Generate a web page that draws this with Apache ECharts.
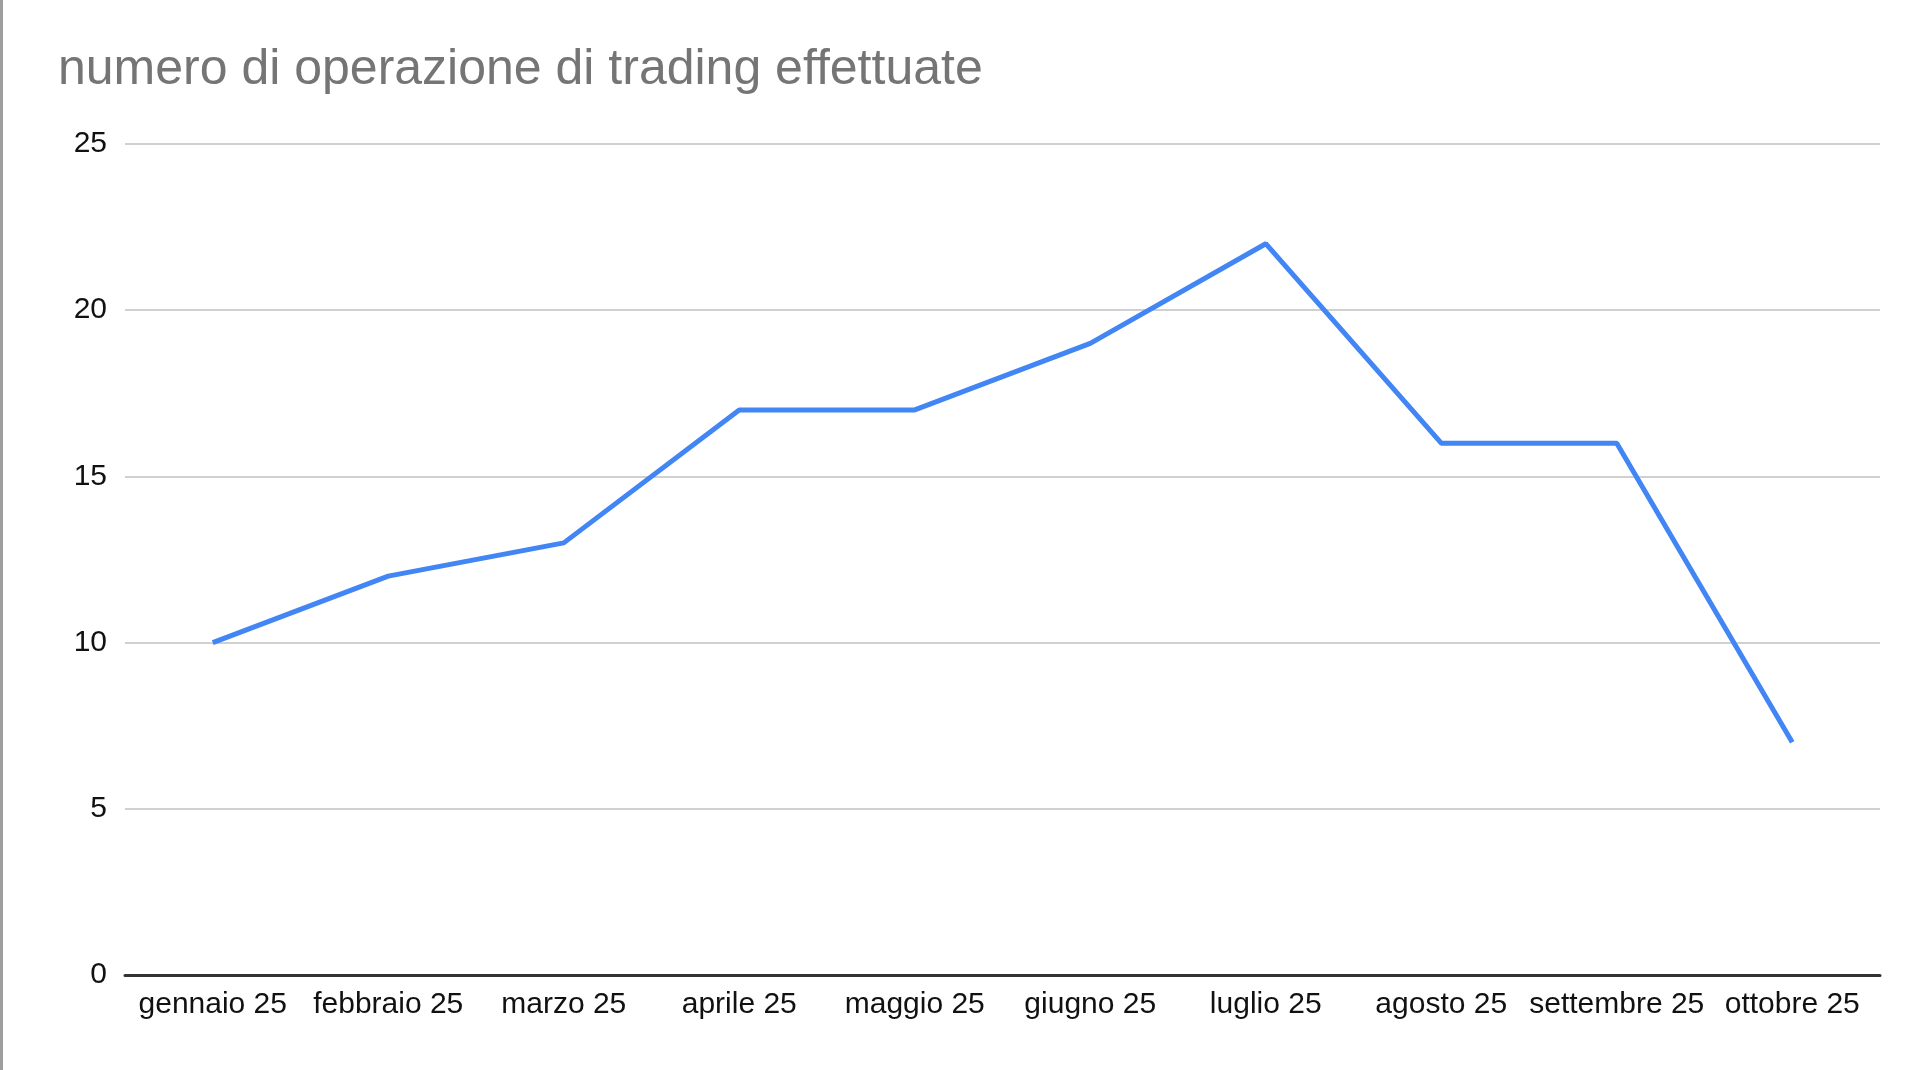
<!DOCTYPE html>
<html>
<head>
<meta charset="UTF-8">
<title>numero di operazione di trading effettuate</title>
<script src="https://cdn.jsdelivr.net/npm/echarts@6/dist/echarts.min.js"></script>
<style>
  html, body { margin: 0; padding: 0; background: #fff; }
  #main { width: 1920px; height: 1070px; box-sizing: border-box; border-left: 3px solid #9e9e9e; }
</style>
</head>
<body>
<div id="main"></div>
<script type="text/javascript">
// mesi e numero di operazioni
var mesi = ['gennaio 25', 'febbraio 25', 'marzo 25', 'aprile 25', 'maggio 25',
            'giugno 25', 'luglio 25', 'agosto 25', 'settembre 25', 'ottobre 25'];
var operazioni = [10, 12, 13, 17, 17, 19, 22, 16, 16, 7];
var titolo = 'numero di operazione di trading effettuate';

var myChart = echarts.init(document.getElementById('main'));

myChart.setOption({
    animation: false,
    title: {
        text: titolo,
        left: 50,
        top: 40,
        textStyle: {
            fontFamily: 'Liberation Sans, Arial, sans-serif',
            fontSize: 50,
            fontWeight: 'normal',
            color: '#757575'
        }
    },
    grid: {
        left: 122,
        right: 40,
        top: 144,
        bottom: 95
    },
    xAxis: {
        type: 'category',
        data: mesi,
        boundaryGap: true,
        axisLine: { lineStyle: { color: '#333', width: 3 } },
        axisTick: { show: false },
        axisLabel: {
            margin: 15,
            interval: 0,
            fontFamily: 'Liberation Sans, Arial, sans-serif',
            fontSize: 30,
            color: '#111'
        }
    },
    yAxis: {
        type: 'value',
        min: 0,
        max: 25,
        interval: 5,
        axisLine: { show: false },
        axisTick: { show: false },
        splitLine: { lineStyle: { color: '#d0d0d0', width: 2 } },
        axisLabel: {
            margin: 18,
            fontFamily: 'Liberation Sans, Arial, sans-serif',
            fontSize: 30,
            color: '#111'
        }
    },
    series: [{
        type: 'line',
        data: operazioni,
        symbol: 'none',
        lineStyle: { color: '#4285f4', width: 5 },
        itemStyle: { color: '#4285f4' }
    }]
});
</script>
</body>
</html>
